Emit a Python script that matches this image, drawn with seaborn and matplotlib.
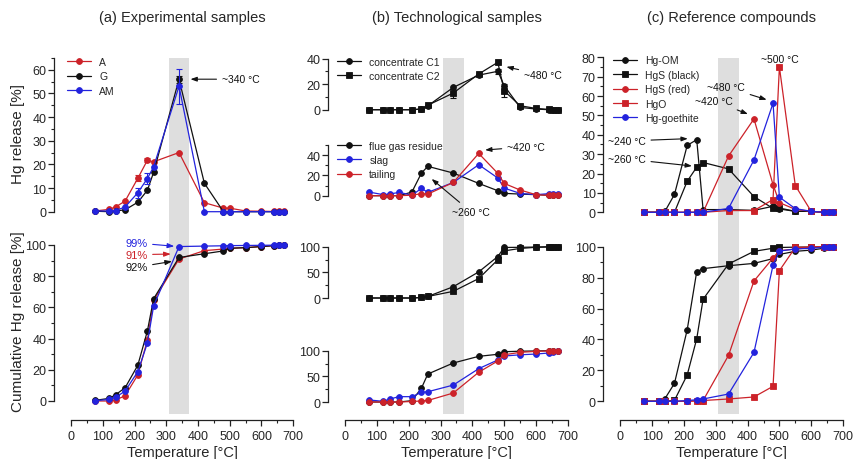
import matplotlib
matplotlib.use("Agg")
import matplotlib.pyplot as plt
import seaborn as sns
from matplotlib.ticker import MultipleLocator

sns.set_theme(style="ticks")
plt.rcParams["font.family"] = ["Liberation Sans", "DejaVu Sans"]

# ---------------------------------------------------------------- data
temps = [75, 120, 140, 170, 210, 240, 260, 340, 420, 480, 500, 550, 600, 640, 655, 670]

# (a) experimental samples: Hg release per step [%]
rel_A = [0.3, 1.0, 2.0, 4.5, 14.1, 21.7, 21.1, 25.0, 3.8, 1.5, 1.5, 0.3, 0.2, 0.1, 0.1, 0.1]
rel_G = [0.2, 0.0, 0.3, 0.8, 4.0, 9.0, 16.7, 56.0, 12.0, 0.0, 0.0, 0.0, 0.0, 0.0, 0.0, 0.0]
rel_AM = [0.3, 0.3, 0.5, 2.0, 8.0, 14.0, 19.0, 53.0, 0.0, 0.0, 0.0, 0.0, 0.0, 0.0, 0.0, 0.0]
err_A = [0, 0, 0, 0, 1.2, 0.8, 0, 0, 0, 0, 0, 0, 0, 0, 0, 0]
err_G = [0, 0, 0, 0, 0, 0, 0, 1.5, 0, 0, 0, 0, 0, 0, 0, 0]
err_AM = [0, 0, 0, 0, 2.0, 2.5, 0, 7.5, 0, 0, 0, 0, 0, 0, 0, 0]
# (a) cumulative release [%]
cum_A = [0.0, 0.0, 0.6, 3.4, 16.7, 39.0, 64.5, 91.0, 96.4, 97.4, 97.9, 98.3, 99.0, 99.6, 99.8, 100.0]
cum_G = [0.4, 1.7, 4.0, 8.5, 22.9, 44.7, 65.6, 92.0, 94.4, 96.2, 97.9, 98.3, 99.0, 99.6, 99.8, 100.0]
cum_AM = [0.2, 1.0, 2.3, 6.4, 18.8, 37.0, 61.0, 99.0, 99.3, 99.5, 99.6, 99.7, 99.8, 99.9, 100.0, 100.0]

# (b) technological samples
rel_C1 = [0, 0, 0, 0, 0, 0.5, 3.0, 17.4, 27.0, 30.0, 18.8, 1.8, 0.5, 0, 0, 0]
rel_C2 = [0, 0, 0, 0, 0, 0.5, 3.5, 13.0, 27.9, 37.0, 14.8, 3.1, 1.0, 0.2, 0, 0]
err_C1 = [0, 0, 0, 0, 0, 0, 0, 0, 0, 2.0, 0, 0, 0, 0, 0, 0]
err_C2 = [0, 0, 0, 0, 0, 0, 0, 3.5, 0, 0, 5.0, 0, 0, 0, 0, 0]
rel_flue = [0, 0, 0, 0, 3.6, 22.3, 28.9, 22.3, 12.1, 4.9, 2.3, 1.6, 1.0, 0.5, 0.5, 0.5]
rel_slag = [3.6, 1.0, 1.6, 3.3, 0.5, 7.2, 3.3, 13.0, 30.5, 17.4, 7.5, 2.3, 1.0, 2.0, 2.0, 2.0]
rel_tail = [0, 0, 0, 0, 0.5, 2.0, 1.6, 13.0, 41.6, 22.0, 12.1, 5.6, 1.0, 0.3, 0.3, 0.3]
cum_C1 = [0, 0, 0, 0, 0, 1.0, 3.0, 22.0, 51.0, 81.0, 98.7, 99.0, 99.5, 100, 100, 100]
cum_C2 = [0, 0, 0, 0, 0, 1.0, 3.0, 13.0, 38.0, 74.7, 92.0, 96.8, 99.0, 99.8, 100, 100]
cum_flue = [0, 0, 0, 0, 2.6, 27.0, 54.5, 76.0, 89.0, 93.0, 98.0, 99.0, 99.5, 100, 100, 100]
cum_slag = [4.0, 1.3, 5.8, 10.4, 10.4, 18.8, 20.0, 33.0, 65.0, 82.0, 89.6, 92.0, 93.5, 95.5, 98.0, 100]
cum_tail = [0, 0, 0, 0, 1.0, 2.0, 3.0, 17.5, 58.0, 80.0, 92.0, 96.8, 98.7, 99.5, 100, 100]

# (c) reference compounds
rel_OM = [0, 0, 0.5, 9.2, 34.5, 37.5, 1.4, 1.4, 1.0, 3.1, 1.7, 0.5, 0.5, 0, 0, 0]
rel_HgS_b = [0, 0, 0, 0, 16.0, 23.3, 25.7, 22.4, 8.1, 2.0, 2.2, 0.5, 0.5, 0, 0, 0]
rel_HgS_r = [0, 0, 0, 0, 0, 0, 0, 29.0, 48.2, 14.3, 5.0, 1.5, 0.5, 0, 0, 0]
rel_HgO = [0, 0, 0, 0, 0, 0, 0, 0.9, 0.9, 6.6, 75.0, 13.8, 0.5, 0, 0, 0]
rel_goe = [0, 0, 0, 0, 0, 0, 0, 2.0, 27.0, 56.3, 7.8, 1.9, 0.5, 0, 0, 0]
cum_OM = [0, 0, 1.7, 11.6, 46.2, 83.9, 85.8, 87.7, 89.2, 92.3, 95.0, 97.0, 97.8, 99.0, 99.5, 100]
cum_HgS_b = [0, 0, 0, 0.6, 17.0, 40.4, 66.0, 88.8, 97.0, 99.0, 99.5, 99.7, 99.8, 100, 100, 100]
cum_HgS_r = [0, 0, 0, 0, 0, 0.3, 0.5, 29.7, 77.8, 92.7, 97.4, 98.5, 99.5, 100, 100, 100]
cum_HgO = [0, 0, 0, 0, 0, 0.3, 0.5, 1.5, 2.8, 9.7, 84.5, 99.5, 99.8, 100, 100, 100]
cum_goe = [0, 0, 0, 0, 0.5, 1.0, 1.5, 4.7, 31.6, 88.0, 97.2, 98.5, 99.0, 99.5, 100, 100]

band = (307, 373)
xticks = [0, 100, 200, 300, 400, 500, 600, 700]

RED = "#CC2229"
BLUE = "#2323DD"
BLACK = "#111111"
SPINE = "#222222"

# ---------------------------------------------------------------- layout helpers
W, H = 855, 460
fig = plt.figure(figsize=(W / 100, H / 100), dpi=100)
fig.patch.set_facecolor("white")


def add_ax(x0, x1, ytop, ybot):
    return fig.add_axes([x0 / W, 1 - ybot / H, (x1 - x0) / W, (ybot - ytop) / H])


def base_axis(x0, x1):
    ax = add_ax(x0, x1, 58.5, 420.5)
    ax.set_xlim(0, 700)
    ax.set_ylim(0, 1)
    ax.axvspan(*band, ymin=0.015, ymax=1, color="#DEDEDE", lw=0, zorder=0)
    for s in ["top", "right", "left"]:
        ax.spines[s].set_visible(False)
    ax.spines["bottom"].set_color(SPINE)
    ax.spines["bottom"].set_linewidth(0.9)
    ax.set_yticks([])
    ax.set_xticks(xticks)
    ax.xaxis.set_minor_locator(MultipleLocator(50))
    ax.tick_params(axis="x", which="major", length=4.5, width=0.9, color=SPINE,
                   labelsize=9, pad=3)
    ax.tick_params(axis="x", which="minor", length=2.5, width=0.8, color=SPINE)
    ax.set_xlabel("Temperature [°C]", fontsize=10.5, labelpad=2)
    return ax


def data_axis(x0, x1, ytop, ybot, ylim, major, minor):
    ax = add_ax(x0, x1, ytop, ybot)
    ax.set_xlim(0, 700)
    ax.set_ylim(*ylim)
    ax.patch.set_alpha(0)
    for s in ["top", "right", "bottom"]:
        ax.spines[s].set_visible(False)
    ax.spines["left"].set_position(("outward", 12.3))
    ax.spines["left"].set_color(SPINE)
    ax.spines["left"].set_linewidth(0.9)
    ax.xaxis.set_visible(False)
    ax.yaxis.set_major_locator(MultipleLocator(major))
    ax.yaxis.set_minor_locator(MultipleLocator(minor))
    ax.tick_params(axis="y", which="major", length=4, width=0.9, color=SPINE,
                   labelsize=9, pad=1.5)
    ax.tick_params(axis="y", which="minor", length=2.2, width=0.8, color=SPINE)
    return ax


def series(ax, y, color, marker="o", label=None, err=None):
    sns.lineplot(x=temps, y=y, ax=ax, color=color, marker=marker, markersize=4.2,
                 markeredgecolor=color, markeredgewidth=0.6, linewidth=0.9,
                 label=label, clip_on=False, legend=False)
    if err is not None:
        xs = [t for t, e in zip(temps, err) if e > 0]
        ys = [v for v, e in zip(y, err) if e > 0]
        es = [e for e in err if e > 0]
        ax.errorbar(xs, ys, yerr=es, fmt="none", ecolor=color, elinewidth=0.8,
                    capsize=2, capthick=0.8, clip_on=False)


def legend(ax, x, y):
    ax.legend(loc="upper left", bbox_to_anchor=(x / W, 1 - y / H),
              bbox_transform=fig.transFigure, frameon=False, fontsize=7.5,
              handlelength=2.3, handletextpad=0.8, labelspacing=0.42,
              borderpad=0, borderaxespad=0)


def note(ax, text, xy, xytext, color=BLACK, ha="left", size=7.5):
    ax.annotate(text, xy=xy, xytext=xytext, ha=ha, va="center", fontsize=size,
                color=color, annotation_clip=False,
                arrowprops=dict(arrowstyle="-|>,head_length=0.5,head_width=0.18",
                                color=color, lw=0.8, shrinkA=1.5, shrinkB=0))


col_a = (71.2, 293.2)
col_b = (345.1, 567.8)
col_c = (620.4, 843.0)

# ---------------------------------------------------------------- (a)
base_axis(*col_a)
ax = data_axis(*col_a, 58.9, 212.7, (0, 65), 10, 5)
series(ax, rel_A, RED, label="A", err=err_A)
series(ax, rel_G, BLACK, label="G", err=err_G)
series(ax, rel_AM, BLUE, label="AM", err=err_AM)
legend(ax, 67, 58)
note(ax, "~340 °C", xy=(376, 56), xytext=(475, 56))

ax = data_axis(*col_a, 246, 402, (0, 100), 20, 10)
series(ax, cum_A, RED)
series(ax, cum_G, BLACK)
series(ax, cum_AM, BLUE)
note(ax, "99%", xy=(325, 99.2), xytext=(240, 101.3), color=BLUE, ha="right", size=8)
note(ax, "91%", xy=(314, 94.2), xytext=(240, 93.8), color=RED, ha="right", size=8)
note(ax, "92%", xy=(318, 89.5), xytext=(240, 85.7), color=BLACK, ha="right", size=8)

# ---------------------------------------------------------------- (b)
base_axis(*col_b)
ax = data_axis(*col_b, 59.5, 110.7, (0, 40), 20, 10)
series(ax, rel_C1, BLACK, "o", "concentrate C1", err_C1)
series(ax, rel_C2, BLACK, "s", "concentrate C2", err_C2)
legend(ax, 337, 57.5)
note(ax, "~480 °C", xy=(507, 33.5), xytext=(562, 27))

ax = data_axis(*col_b, 145.9, 196.7, (0, 50), 20, 10)
series(ax, rel_flue, BLACK, label="flue gas residue")
series(ax, rel_slag, BLUE, label="slag")
series(ax, rel_tail, RED, label="tailing")
legend(ax, 337, 141.5)
note(ax, "~420 °C", xy=(440, 45), xytext=(509, 48))
note(ax, "~260 °C", xy=(272, 16.5), xytext=(396, -16), ha="center")

ax = data_axis(*col_b, 247.8, 299, (0, 100), 50, 25)
series(ax, cum_C1, BLACK, "o")
series(ax, cum_C2, BLACK, "s")

ax = data_axis(*col_b, 351.7, 403, (0, 100), 50, 25)
series(ax, cum_flue, BLACK)
series(ax, cum_slag, BLUE)
series(ax, cum_tail, RED)

# ---------------------------------------------------------------- (c)
base_axis(*col_c)
ax = data_axis(*col_c, 58.3, 213.3, (0, 80), 10, 5)
series(ax, rel_OM, BLACK, "o", "Hg-OM")
series(ax, rel_HgS_b, BLACK, "s", "HgS (black)")
series(ax, rel_HgS_r, RED, "o", "HgS (red)")
series(ax, rel_HgO, RED, "s", "HgO")
series(ax, rel_goe, BLUE, "o", "Hg-goethite")
legend(ax, 613, 56.5)
ax.text(500, 79.1, "~500 °C", ha="center", va="center", fontsize=7.5, color=BLACK)
note(ax, "~480 °C", xy=(460, 58.1), xytext=(332, 64.7), ha="center")
note(ax, "~420 °C", xy=(401, 50.7), xytext=(294, 57.5), ha="center")
note(ax, "~240 °C", xy=(212, 38), xytext=(20, 36.8), ha="center")
note(ax, "~260 °C", xy=(225, 23.9), xytext=(20, 27.5), ha="center")

ax = data_axis(*col_c, 247.7, 402.3, (0, 100), 20, 10)
series(ax, cum_OM, BLACK, "o")
series(ax, cum_HgS_b, BLACK, "s")
series(ax, cum_HgS_r, RED, "o")
series(ax, cum_HgO, RED, "s")
series(ax, cum_goe, BLUE, "o")

# ---------------------------------------------------------------- labels
fig.text(18 / W, 1 - 134 / H, "Hg release [%]", rotation=90, ha="center",
         va="center", fontsize=11)
fig.text(18 / W, 1 - 322 / H, "Cumulative Hg release [%]", rotation=90,
         ha="center", va="center", fontsize=11)
for (x0, x1), title in zip([col_a, col_b, col_c],
                           ["(a) Experimental samples", "(b) Technological samples",
                            "(c) Reference compounds"]):
    fig.text((x0 + x1) / 2 / W, 1 - 18 / H, title, ha="center", va="center",
             fontsize=10.5)

fig.savefig("out.png", dpi=100, facecolor="white")
